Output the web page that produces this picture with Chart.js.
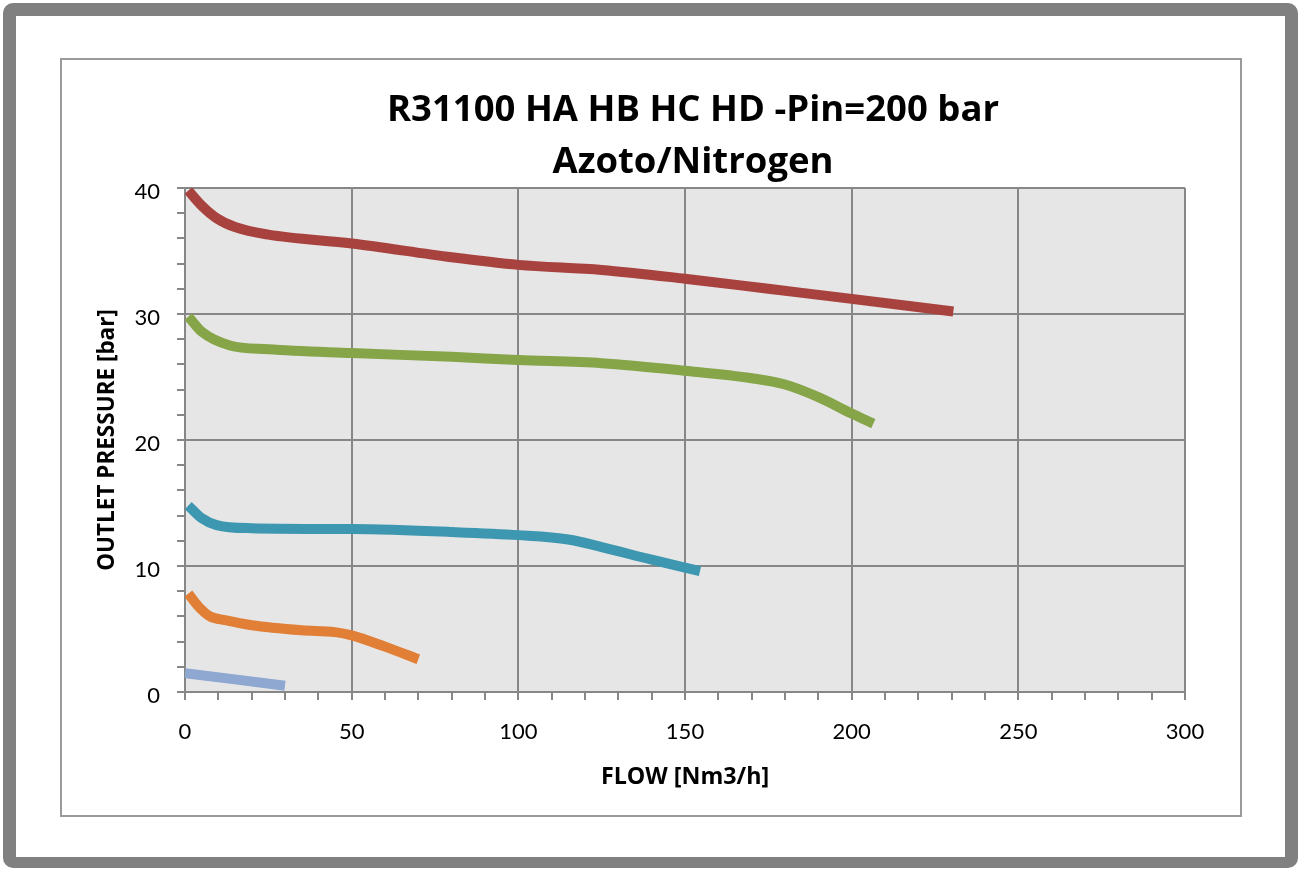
<!DOCTYPE html>
<html>
<head>
<meta charset="utf-8">
<script src="https://cdn.jsdelivr.net/npm/chart.js@4"></script>
<style>
  html, body { margin: 0; padding: 0; background: #ffffff; }
  body { width: 1299px; height: 869px; position: relative; overflow: hidden; }
  #outer { position: absolute; left: 3px; top: 3px; width: 1295px; height: 865px; box-sizing: border-box;
           border: 13px solid #808080; border-bottom-width: 11px; border-radius: 10px; }
  #inner { position: absolute; left: 60px; top: 58px; width: 1182px; height: 759px; box-sizing: border-box;
           border: 2px solid #9a9a9a; background: #ffffff; }
  #wrap { position: absolute; left: 0; top: 0; width: 1299px; height: 869px; }
</style>
</head>
<body>
<div id="outer"></div>
<div id="inner"></div>
<div id="wrap"><canvas id="c" width="1299" height="869"></canvas></div>
<script>
// ---- data ----
const titleLines = ['R31100 HA HB HC HD -Pin=200 bar', 'Azoto/Nitrogen'];
const xAxisTitle = 'FLOW [Nm3/h]';
const yAxisTitle = 'OUTLET PRESSURE [bar]';

const redX   = [1, 5, 9.5, 15, 25, 50, 80, 100, 125, 150, 175, 200, 230.5];
const redY   = [39.8, 38.6, 37.6, 36.9, 36.3, 35.6, 34.5, 33.9, 33.5, 32.8, 32.0, 31.2, 30.2];

const greenX = [1, 5, 13.5, 25, 50, 80, 100, 125, 150, 170, 180, 190, 200, 206.5];
const greenY = [29.8, 28.6, 27.5, 27.2, 26.9, 26.6, 26.35, 26.1, 25.5, 24.9, 24.4, 23.4, 22.1, 21.3];

const tealX  = [1, 5, 9.5, 20, 50, 80, 100, 115, 125, 140, 154.5];
const tealY  = [14.8, 13.8, 13.25, 13.0, 12.93, 12.7, 12.45, 12.1, 11.5, 10.5, 9.6];

const orangeX = [1, 4, 7.5, 12, 20, 35, 45, 50, 60, 70];
const orangeY = [7.8, 6.8, 6.0, 5.7, 5.3, 4.9, 4.75, 4.5, 3.6, 2.6];

const blueX = [0, 30];
const blueY = [1.5, 0.5];

const xTickLabels = [0, 50, 100, 150, 200, 250, 300];
const yTickLabels = [0, 10, 20, 30, 40];

// ---- build ----
function pts(xs, ys) { return xs.map((x, i) => ({ x: x, y: ys[i] })); }
function series(xs, ys, color) {
  return {
    data: pts(xs, ys),
    borderColor: color,
    backgroundColor: color,
    borderWidth: 10,
    borderCapStyle: 'butt',
    borderJoinStyle: 'round',
    pointRadius: 0,
    pointHoverRadius: 0,
    fill: false,
    tension: 0.4,
    cubicInterpolationMode: 'monotone'
  };
}

const gridColor = '#878787';

const plotBg = {
  id: 'plotBg',
  beforeDraw(chart) {
    const a = chart.chartArea, ctx = chart.ctx;
    ctx.save();
    ctx.fillStyle = '#e6e6e6';
    ctx.fillRect(a.left, a.top, a.right - a.left, a.bottom - a.top);
    ctx.restore();
  }
};

// the reference title sits slightly right of the plot centre
const titleShift = {
  id: 'titleShift',
  afterLayout(chart) {
    const t = chart.titleBlock;
    if (t) { t.left += 8; t.right += 8; }
  }
};

new Chart(document.getElementById('c'), {
  type: 'line',
  data: {
    datasets: [
      series(blueX, blueY, '#8ea8d2'),
      series(orangeX, orangeY, '#e07f35'),
      series(tealX, tealY, '#3e97b0'),
      series(greenX, greenY, '#86a549'),
      series(redX, redY, '#a8423f')
    ]
  },
  options: {
    responsive: false,
    animation: false,
    events: [],
    layout: { padding: { left: 85, right: 114, top: 70, bottom: 67 } },
    plugins: {
      legend: { display: false },
      tooltip: { enabled: false },
      title: {
        display: true,
        text: titleLines,
        fullSize: false,
        color: '#000000',
        font: { family: 'Open Sans', weight: 'bold', size: 36.5, lineHeight: '51.5px' },
        padding: { top: 15, bottom: 0 }
      }
    },
    scales: {
      x: {
        type: 'linear',
        min: 0, max: 300,
        afterFit(s) { s.height = 110; },
        ticks: {
          stepSize: 10,
          autoSkip: false,
          maxRotation: 0,
          color: '#000000',
          font: { family: 'Lato', size: 22 },
          padding: 19,
          callback: v => (xTickLabels.includes(v) ? String(v) : '')
        },
        grid: {
          color: c => (c.tick && xTickLabels.includes(c.tick.value) ? gridColor : 'rgba(0,0,0,0)'),
          tickColor: gridColor,
          lineWidth: 2,
          tickWidth: 2,
          tickLength: 8,
          drawTicks: true
        },
        border: { display: true, color: gridColor, width: 2 },
        title: {
          display: true,
          text: xAxisTitle,
          color: '#000000',
          font: { family: 'Open Sans', weight: 'bold', size: 23.25 },
          padding: { top: 0, bottom: 11 }
        }
      },
      y: {
        type: 'linear',
        min: 0, max: 40,
        afterFit(s) { s.width = 100; },
        ticks: {
          stepSize: 2,
          autoSkip: false,
          color: '#000000',
          font: { family: 'Lato', size: 22 },
          padding: 17,
          labelOffset: 4,
          callback: v => (yTickLabels.includes(v) ? String(v) : '')
        },
        grid: {
          color: c => (c.tick && yTickLabels.includes(c.tick.value) ? gridColor : 'rgba(0,0,0,0)'),
          tickColor: gridColor,
          lineWidth: 2,
          tickWidth: 2,
          tickLength: 8
        },
        border: { display: true, color: gridColor, width: 2 },
        title: {
          display: true,
          text: yAxisTitle,
          color: '#000000',
          font: { family: 'Open Sans', weight: 'bold', size: 22.5 },
          padding: { top: 9, bottom: 0 }
        }
      }
    }
  },
  plugins: [plotBg, titleShift]
});
</script>
</body>
</html>
